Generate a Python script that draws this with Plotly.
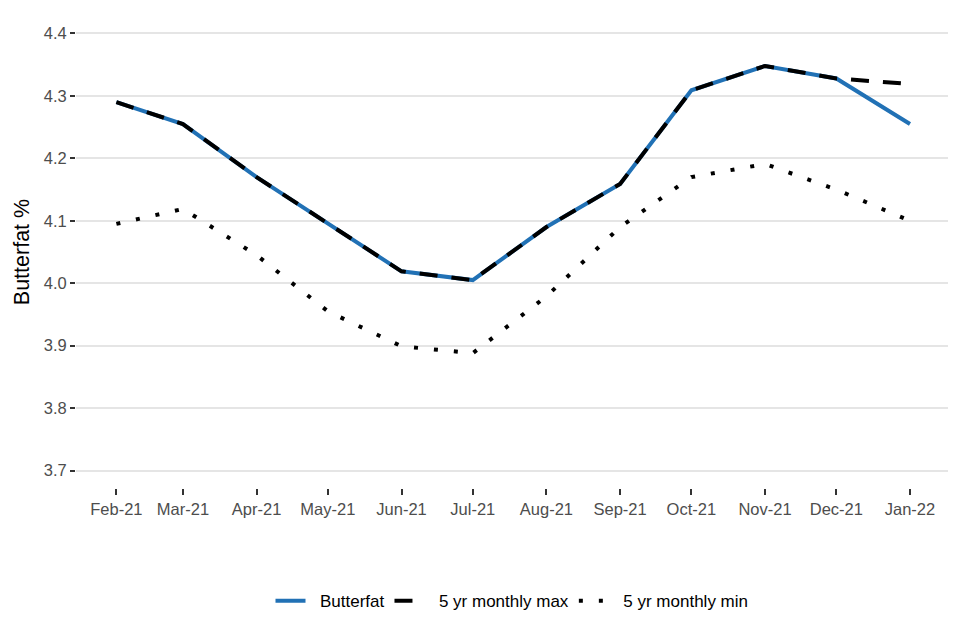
import plotly.graph_objects as go

months = ["2021-02-01", "2021-03-01", "2021-04-01", "2021-05-01", "2021-06-01", "2021-07-01",
          "2021-08-01", "2021-09-01", "2021-10-01", "2021-11-01", "2021-12-01", "2022-01-01"]
tick_labels = ["Feb-21", "Mar-21", "Apr-21", "May-21", "Jun-21", "Jul-21",
               "Aug-21", "Sep-21", "Oct-21", "Nov-21", "Dec-21", "Jan-22"]
butterfat = [4.290, 4.255, 4.170, 4.096, 4.019, 4.005, 4.090, 4.159, 4.309, 4.348, 4.328, 4.255]
max5 = [4.290, 4.255, 4.170, 4.096, 4.019, 4.005, 4.090, 4.159, 4.309, 4.348, 4.328, 4.319]
min5 = [4.095, 4.119, 4.045, 3.955, 3.899, 3.888, 3.979, 4.090, 4.170, 4.191, 4.150, 4.100]
y_ticks = [3.7, 3.8, 3.9, 4.0, 4.1, 4.2, 4.3, 4.4]

pad = "\u00a0\u00a0"

fig = go.Figure()
fig.add_trace(go.Scatter(x=months, y=butterfat, mode="lines", name=pad + "Butterfat",
                         line=dict(color="#2171b5", width=4)))
fig.add_trace(go.Scatter(x=months, y=max5, mode="lines", name=pad + "5 yr monthly max",
                         line=dict(color="black", width=4, dash="18px,14px")))
fig.add_trace(go.Scatter(x=months, y=min5, mode="lines", name=pad + "5 yr monthly min",
                         line=dict(color="black", width=4, dash="4px,16px")))

fig.update_layout(
    width=960, height=640,
    paper_bgcolor="white", plot_bgcolor="white",
    font=dict(family="Liberation Sans, Arial, sans-serif", color="#4d4d4d", size=16),
    margin=dict(l=68, r=20, t=8, b=160, autoexpand=False),
    showlegend=True,
    legend=dict(orientation="h", x=0.5, xanchor="center", y=-0.24, yanchor="middle",
                font=dict(size=17, color="black")),
    xaxis=dict(
        type="date",
        range=["2021-01-15", "2022-01-17"],
        tickvals=months, ticktext=tick_labels,
        showgrid=False, zeroline=False, showline=False,
        ticks="outside", ticklen=6, tickwidth=1.5, tickcolor="#333333",
        tickfont=dict(size=16.5, color="#4d4d4d"),
        automargin=False,
    ),
    yaxis=dict(
        range=[3.672, 4.428],
        tickvals=y_ticks, tickformat=".1f",
        showgrid=True, gridcolor="#e5e5e5", gridwidth=1.5,
        zeroline=False, showline=False,
        ticks="outside", ticklen=5, tickwidth=1.5, tickcolor="#333333",
        tickfont=dict(size=16.5, color="#4d4d4d"),
        title=dict(text="Butterfat %", font=dict(size=21.5, color="black"), standoff=8),
        automargin=False,
    ),
)

fig.write_html("out.html")
